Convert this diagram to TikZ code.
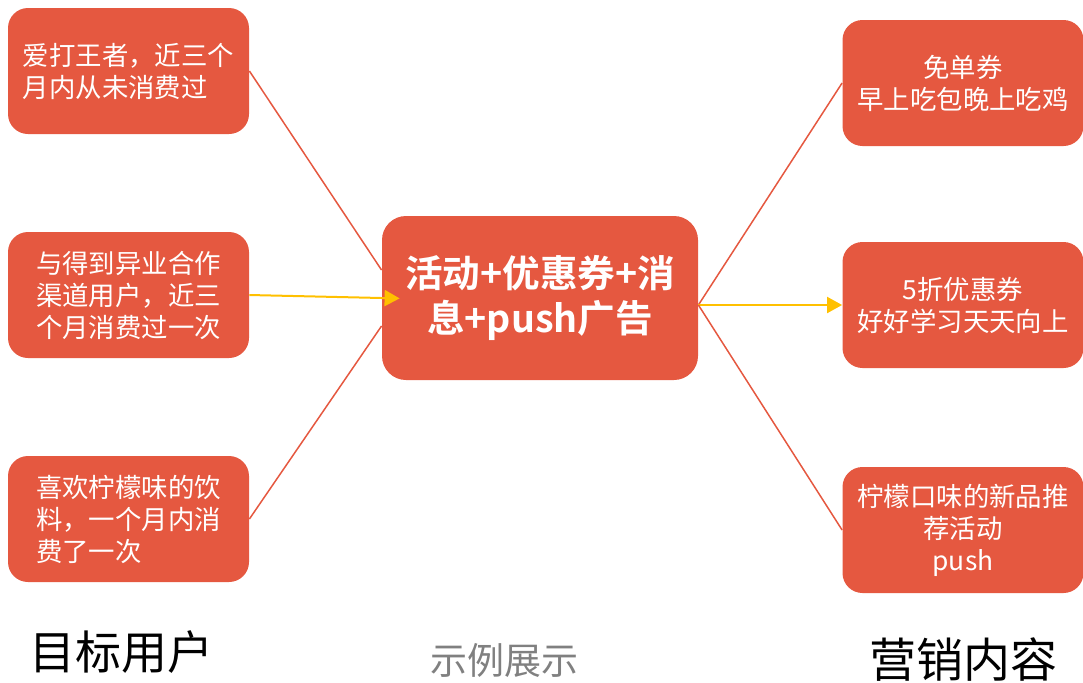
\documentclass[tikz,border=0pt]{standalone}
\usepackage{fontspec}
\setmainfont{Noto Sans CJK SC}[BoldFont={Noto Sans CJK SC Bold}]
\usepackage{xcolor}
\usetikzlibrary{arrows.meta}

\definecolor{boxred}{RGB}{229,88,64}
\definecolor{arrowyellow}{RGB}{255,192,0}

\tikzset{
    userbox/.style={fill=boxred, text=white, rounded corners=10pt, minimum width=120.5pt, minimum height=63pt, align=left, font=\fontsize{13.2}{16}\selectfont},
    contentbox/.style={userbox, align=center},
    mainbox/.style={fill=boxred, text=white, rounded corners=12pt, minimum width=158pt, minimum height=82pt, align=center, font=\fontsize{18.8}{22.5}\selectfont\bfseries},
    link/.style={draw=boxred, line width=0.75pt},
    yarrow/.style={draw=arrowyellow, line width=1pt, -{Triangle[length=7.5pt,width=8pt]}}
}

\begin{document}
\begin{tikzpicture}[x=0.5pt, y=-0.5pt]
    \useasboundingbox (0,0) rectangle (1083,682);

    % target users
    \node (L1) at (128.5,71) [userbox] {爱打王者，近三个\\月内从未消费过};
    \node (L2) at (128.5,295) [userbox] {与得到异业合作\\渠道用户，近三\\个月消费过一次};
    \node (L3) at (128.5,519) [userbox] {喜欢柠檬味的饮\\料，一个月内消\\费了一次};

    \node (C) at (540,298) [mainbox] {活动+优惠券+消\\息+push广告};

    % marketing content
    \node (R1) at (963,83) [contentbox] {免单券\\早上吃包晚上吃鸡};
    \node (R2) at (963,305) [contentbox] {5折优惠券\\好好学习天天向上};
    \node (R3) at (963,530) [contentbox] {柠檬口味的新品推\\荐活动\\push};

    \coordinate (Cout) at (C.east |- R2.west);

    \draw[link] (L1.east) -- (C.170);
    \draw[yarrow, shorten >=-9pt] (L2.east) -- (C.west);
    \draw[link] (L3.east) -- (C.190);

    \draw[link] (Cout) -- (R1.west);
    \draw[yarrow] (Cout) -- (R2.west);
    \draw[link] (Cout) -- (R3.west);

    \node (T1) at (122,652) [font=\fontsize{23}{28}\selectfont] {目标用户};
    \node (T2) at (504,660) [text=black!50, font=\fontsize{18.5}{22}\selectfont] {示例展示};
    \node (T3) at (963,660) [font=\fontsize{23.5}{28}\selectfont] {营销内容};
\end{tikzpicture}
\end{document}
